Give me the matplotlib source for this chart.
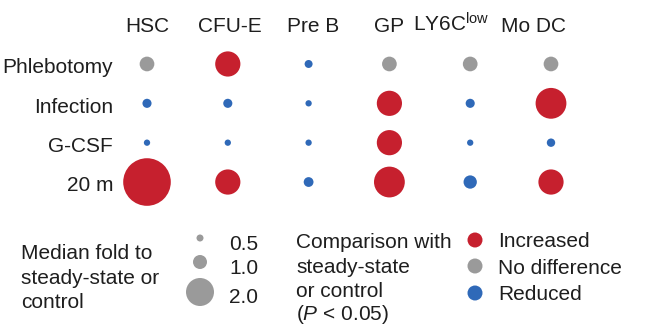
import matplotlib
matplotlib.use("Agg")
import matplotlib.pyplot as plt
import numpy as np

plt.rcParams['font.family'] = ['Liberation Sans', 'DejaVu Sans']
plt.rcParams['mathtext.fontset'] = 'custom'
plt.rcParams['mathtext.rm'] = 'Liberation Sans'
plt.rcParams['mathtext.it'] = 'Liberation Sans:italic'

# data
cells = ['HSC', 'CFU-E', 'Pre B', 'GP', 'LY6C$^{\\mathrm{low}}$', 'Mo DC']
conditions = ['Phlebotomy', 'Infection', 'G-CSF', '20 m']

fold_phlebotomy = [1.05, 1.8, 0.57, 1.05, 1.05, 1.05]
fold_infection = [0.65, 0.65, 0.45, 1.8, 0.65, 2.2]
fold_gcsf = [0.45, 0.45, 0.45, 1.8, 0.45, 0.6]
fold_20m = [3.4, 1.8, 0.7, 2.2, 0.95, 1.8]

stat_phlebotomy = ['ns', 'up', 'down', 'ns', 'ns', 'ns']
stat_infection = ['down', 'down', 'down', 'up', 'down', 'up']
stat_gcsf = ['down', 'down', 'down', 'up', 'down', 'down']
stat_20m = ['up', 'up', 'down', 'up', 'down', 'up']

legend_folds = [0.5, 1.0, 2.0]
legend_status = ['up', 'ns', 'down']
legend_status_labels = ['Increased', 'No difference', 'Reduced']

colors = {'up': '#c6202e', 'ns': '#9a9a9a', 'down': '#2f69b8'}

folds = [fold_phlebotomy, fold_infection, fold_gcsf, fold_20m]
stats = [stat_phlebotomy, stat_infection, stat_gcsf, stat_20m]

W, H = 653, 327
DPI = 100
PX_PER_FOLD = 14.0  # circle diameter in px for fold 1.0
FS = 15
TXT = '#1e1e1e'


def size_of(v):
    d_pt = v * PX_PER_FOLD * 72.0 / DPI
    return d_pt ** 2


fig = plt.figure(figsize=(W / DPI, H / DPI), dpi=DPI)

# main grid axes, placed in pixels
x0, x1 = 106.6, 591.4
y0, y1 = 44.3, 201.7
ax = fig.add_axes([x0 / W, 1 - y1 / H, (x1 - x0) / W, (y1 - y0) / H])
ax.set_xlim(-0.5, 5.5)
ax.set_ylim(3.5, -0.5)
ax.axis('off')

for r, cond in enumerate(conditions):
    xs = np.arange(len(cells))
    ys = np.full(len(cells), r)
    ax.scatter(xs, ys, s=[size_of(v) for v in folds[r]],
               c=[colors[s] for s in stats[r]], linewidths=0, clip_on=False, zorder=3)
    ax.text(-0.42, r + 0.24, cond, ha='right', va='baseline', fontsize=FS, color=TXT)

label_shift = [0, 0.03, 0.05, 0, -0.24, -0.22]
for i, c in enumerate(cells):
    ax.text(i + label_shift[i], -0.813, c, ha='center', va='baseline',
            fontsize=FS, color=TXT, clip_on=False)

# legend area, pixel coordinates
lax = fig.add_axes([0, 0, 1, 1])
lax.set_xlim(0, W)
lax.set_ylim(H, 0)
lax.axis('off')
lax.patch.set_alpha(0)

for txt, yb in zip(['Median fold to', 'steady-state or', 'control'], [259, 284, 308]):
    lax.text(21, yb, txt, ha='left', va='baseline', fontsize=FS, color=TXT)

lax.scatter([200] * 3, [238, 262, 292], s=[size_of(v) for v in legend_folds],
            c=colors['ns'], linewidths=0)
for v, yb in zip(legend_folds, [250, 274, 303]):
    lax.text(229, yb, f'{v:.1f}', ha='left', va='baseline', fontsize=FS, color=TXT)

for txt, yb in zip(['Comparison with', 'steady-state', 'or control', '($\\mathit{P}$ < 0.05)'],
                   [248, 273, 297, 320]):
    lax.text(296, yb, txt, ha='left', va='baseline', fontsize=FS, color=TXT)

lax.scatter([475] * 3, [240, 266, 293], s=size_of(1.07),
            c=[colors[s] for s in legend_status], linewidths=0)
for txt, yb in zip(legend_status_labels, [247, 274, 300]):
    lax.text(498, yb, txt, ha='left', va='baseline', fontsize=FS, color=TXT)

fig.savefig('out.png', dpi=DPI)
